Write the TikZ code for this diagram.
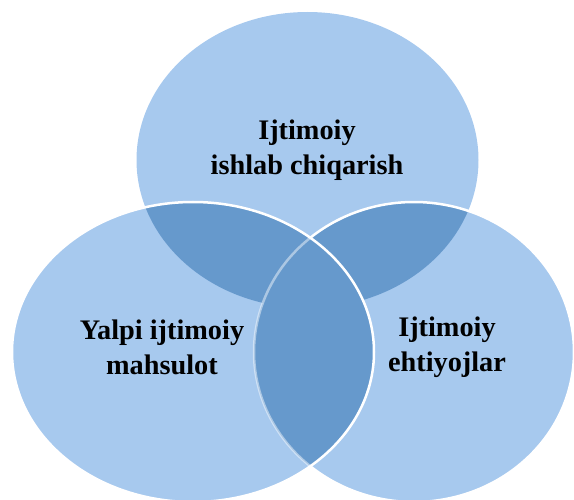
\documentclass[tikz,border=0pt]{standalone}
\usepackage{fontspec}
\setmainfont{Liberation Serif}
\definecolor{lightb}{RGB}{167,201,238}
\definecolor{darkb}{RGB}{102,153,204}
\begin{document}
\begin{tikzpicture}[x=1pt,y=1pt,
  lbl/.style={font=\fontsize{28.3}{35}\selectfont\bfseries, align=center, text=black},
  rim/.style={white, line width=2.5pt}]
\useasboundingbox (0,0) rectangle (574,499);
\clip (0,0) rectangle (574,499);
% light discs
\fill[lightb] (307.5,339) ellipse [x radius=171, y radius=148];
\fill[lightb] (193,147) ellipse [x radius=181, y radius=150];
\fill[lightb] (414,147) ellipse [x radius=160, y radius=150];
% overlaps
\begin{scope}
  \clip (307.5,339) ellipse [x radius=171, y radius=148];
  \fill[darkb] (193,147) ellipse [x radius=181, y radius=150];
  \fill[darkb] (414,147) ellipse [x radius=160, y radius=150];
\end{scope}
\begin{scope}
  \clip (193,147) ellipse [x radius=181, y radius=150];
  \fill[darkb] (414,147) ellipse [x radius=160, y radius=150];
\end{scope}
% white rims
\draw[rim, opacity=0.45] ([shift={(130.4:160 and 150)}]414,147)
  arc[start angle=130.4, end angle=229.6, x radius=160, y radius=150];
\draw[rim] ([shift={(130.4:160 and 150)}]414,147)
  arc[start angle=130.4, end angle=-130.4, x radius=160, y radius=150];
\draw[rim] (193,147) ellipse [x radius=181, y radius=150];
% labels
\node[lbl] (tlab) at (307,349) {Ijtimoiy\\ishlab chiqarish};
\node[lbl] (llab) at (162,152) {Yalpi ijtimoiy\\mahsulot};
\node[lbl] (rlab) at (447,152) {Ijtimoiy\\ehtiyojlar};
\end{tikzpicture}
\end{document}
